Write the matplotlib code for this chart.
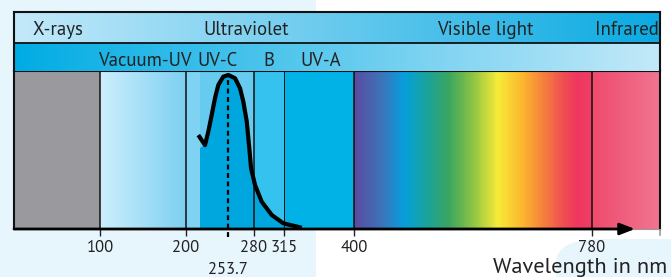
import numpy as np
import matplotlib
matplotlib.use("Agg")
import matplotlib.pyplot as plt
from matplotlib import font_manager as fm
from matplotlib.colors import LinearSegmentedColormap, to_rgb
from matplotlib.patches import Rectangle, FancyBboxPatch
from matplotlib.transforms import blended_transform_factory

# choose a Myriad-like humanist sans if available
names = {f.name for f in fm.fontManager.ttflist}
pref = ["PT Sans", "Fira Sans", "Liberation Sans Narrow", "Roboto Condensed",
        "Open Sans"]
chosen = next((p for p in pref if p in names), "DejaVu Sans")
plt.rcParams['font.family'] = [chosen, 'DejaVu Sans']

# ---------------- data ----------------
scale_nm = [0, 100, 200, 253.7, 280, 315, 400, 780, 1000]
scale_pos = [0, 86, 172, 214.3, 240, 270, 340, 578, 646]

tick_nm = [100, 200, 280, 315, 400, 780]
tick_labels = ["100", "200", "280", "315", "400", "780"]
hg_line_nm = 253.7

band_edges_nm = [100, 200, 280, 315, 400, 780]

top_labels = ["X-rays", "Ultraviolet", "Visible light", "Infrared"]
top_label_nm = [22, 271.8, 609, 995]
uv_labels = ["Vacuum-UV", "UV-C", "B", "UV-A"]
uv_label_nm = [152, 240.6, 297.5, 360]

curve_nm = [215.6, 224.1, 228.3, 232.6, 236.8, 241.0, 247.3, 253.7, 260.6, 265.7,
            269.1, 272.6, 275.2, 277.0, 281.2, 289.0, 300.7, 314.2, 336.5]
curve_rel = [0.610, 0.545, 0.632, 0.740, 0.849, 0.935, 0.989, 1.0, 0.979, 0.914,
             0.827, 0.697, 0.524, 0.394, 0.286, 0.177, 0.091, 0.037, 0.008]
fill_start_nm = 217.8
fill_start_rel = 0.526

rainbow_stops = [(0.00, "#5b4aa0"), (0.11, "#3d72b8"), (0.21, "#069fdc"),
                 (0.31, "#1aa39a"), (0.40, "#3aa55f"), (0.50, "#8dc444"),
                 (0.605, "#f7eb38"), (0.71, "#fbb52e"), (0.79, "#f5853b"),
                 (0.88, "#ef4f50"), (0.94, "#ee3760"), (1.00, "#ee3d63")]

# ---------------- figure ----------------
W, H = 671, 277
fig = plt.figure(figsize=(W / 100, H / 100), dpi=100)

fig.patches.append(Rectangle((0, 0), 316 / W, 1, transform=fig.transFigure,
                             facecolor="#e7f5fd", edgecolor="none", zorder=-20))
fig.patches.append(FancyBboxPatch((556 / W, -0.2), 0.3, 0.2 + (277 - 239) / H,
                                  boxstyle="round,pad=0,rounding_size=0.07",
                                  mutation_aspect=H / W * 3.0,
                                  transform=fig.transFigure,
                                  facecolor="#e7f5fd", edgecolor="none", zorder=-20))

L, R = 14, 660
ax = fig.add_axes([L / W, (H - 229) / H, (R - L) / W, (229 - 71) / H])
hx = fig.add_axes([L / W, (H - 71) / H, (R - L) / W, (71 - 12) / H])


def fwd(x):
    return np.interp(x, scale_nm, scale_pos)


def inv(p):
    return np.interp(p, scale_pos, scale_nm)


ax.set_xscale("function", functions=(fwd, inv))
ax.set_xlim(0, 1000)
ymax = (229 - 71) / 154
ax.set_ylim(0, ymax)


def grad_span(a, x0, x1, c0, c1, n=60, z=0):
    xs = np.linspace(x0, x1, n + 1)
    c0 = np.array(to_rgb(c0)); c1 = np.array(to_rgb(c1))
    for i in range(n):
        t = (i + 0.5) / n
        a.axvspan(xs[i], xs[i + 1], color=c0 + (c1 - c0) * t, lw=0, zorder=z)


ax.axvspan(0, 100, color="#9a9a9e", lw=0, zorder=0)
grad_span(ax, 100, 200, "#cdeefc", "#7ccff1")
ax.axvspan(200, fill_start_nm, color="#80d2f2", lw=0, zorder=0)
ax.axvspan(fill_start_nm, 280, color="#66cbef", lw=0, zorder=0)
ax.axvspan(280, 315, color="#36c2ee", lw=0, zorder=0)
ax.axvspan(315, 400, color="#00b2e6", lw=0, zorder=0)
cmap = LinearSegmentedColormap.from_list("rb", rainbow_stops)
xs = np.linspace(400, 780, 241)
for i in range(240):
    ax.axvspan(xs[i], xs[i + 1], color=cmap((i + 0.5) / 240), lw=0, zorder=0)
grad_span(ax, 780, 1000, "#ef4a6c", "#f07590")

fx = [fill_start_nm, fill_start_nm] + curve_nm[1:] + [curve_nm[-1]]
fy = [0, fill_start_rel] + curve_rel[1:] + [0]
ax.fill(fx, fy, color="#00a6de", lw=0, zorder=1)

for e in band_edges_nm:
    ax.axvline(e, color="#111111", lw=1.1 if e != 315 else 0.7, zorder=2)

ax.plot(curve_nm, curve_rel, color="black", lw=3.0, solid_capstyle="butt",
        solid_joinstyle="round", zorder=4)
ax.plot([hg_line_nm, hg_line_nm], [-0.052, 0.975], color="black", lw=1.6,
        ls=(0, (2.2, 1.6)), zorder=3, clip_on=False)

for s in ["left", "right", "top"]:
    ax.spines[s].set_linewidth(1.5)
    ax.spines[s].set_color("#111111")
ax.spines["bottom"].set_color("#999999")
ax.spines["bottom"].set_linewidth(0.8)
ax.annotate("", xy=(919, 0), xytext=(0, 0), xycoords="data",
            arrowprops=dict(arrowstyle="-|>,head_length=0.9,head_width=0.35",
                            lw=2.0, color="black", shrinkA=0, shrinkB=0),
            annotation_clip=False, zorder=5)

ax.set_xticks(tick_nm)
ax.set_xticklabels(tick_labels)
ax.tick_params(axis="x", length=5, width=1.0, color="#222222", pad=3,
               labelsize=12, labelcolor="#222222")
ax.plot([1000, 1000], [0, -0.04], color="#999999", lw=1.2, clip_on=False)
ax.set_yticks([])

bt = blended_transform_factory(ax.transData, ax.transAxes)
ax.text(hg_line_nm, (229 - 274) / 158, "253.7", transform=bt, ha="center",
        va="baseline", fontsize=12, color="#222222")
ax.text((667 - 14) / 646, (229 - 273) / 158, "Wavelength in nm",
        transform=ax.transAxes, ha="right", va="baseline", fontsize=16,
        color="#222222")

hx.set_xlim(0, 1)
hx.set_ylim(0, 59)
g = np.linspace(0, 1, 256)[None, :]
row1 = LinearSegmentedColormap.from_list("r1", ["#c4e9fa", "#0aaae2"])
row2 = LinearSegmentedColormap.from_list("r2", ["#00ace4", "#c3e9f9"])
hx.imshow(g, cmap=row1, extent=[0, 1, 28, 59], aspect="auto", zorder=0)
hx.imshow(g, cmap=row2, extent=[0, 1, 0, 28], aspect="auto", zorder=0)
hx.axhline(28, color="#111111", lw=1.3)
hx.set_xticks([]); hx.set_yticks([])
for s in ["left", "right", "top"]:
    hx.spines[s].set_linewidth(1.5)
    hx.spines[s].set_color("#111111")
hx.spines["bottom"].set_visible(False)

tr = blended_transform_factory(ax.transData, hx.transData)
has = ["left", "center", "center", "right"]
for lab, x, ha in zip(top_labels, top_label_nm, has):
    hx.text(x, 71 - 35, lab, transform=tr, ha=ha, va="baseline", fontsize=13.5,
            color="#222222")
for lab, x in zip(uv_labels, uv_label_nm):
    hx.text(x, 71 - 65.7, lab, transform=tr, ha="center", va="baseline",
            fontsize=13.5, color="#222222")

fig.savefig("out.png", dpi=100)
